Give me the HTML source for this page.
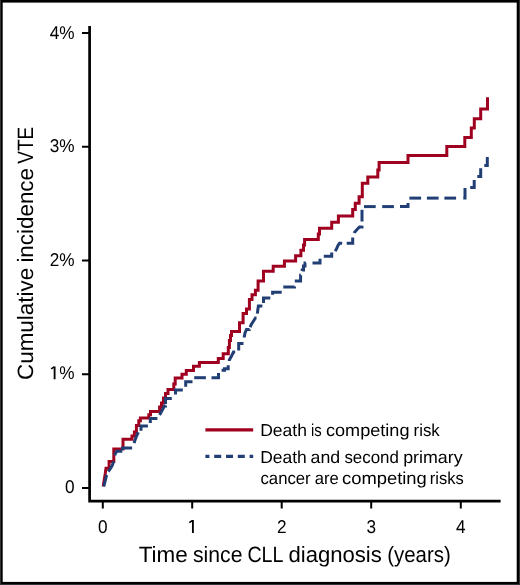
<!DOCTYPE html>
<html><head><meta charset="utf-8"><style>
html,body{margin:0;padding:0;background:#fff;}
svg{display:block;will-change:transform;}
text{font-family:"Liberation Sans",sans-serif;fill:#000;text-rendering:geometricPrecision;}
</style></head><body>
<svg width="520" height="585" viewBox="0 0 520 585">
<rect x="0" y="0" width="520" height="585" fill="#fff"/>
<rect x="0" y="0" width="520" height="2.6" fill="#000"/>
<rect x="0" y="0" width="2.7" height="585" fill="#000"/>
<rect x="516.7" y="0" width="3.3" height="585" fill="#000"/>
<rect x="0" y="581.9" width="520" height="3.1" fill="#000"/>
<rect x="0" y="0" width="1" height="585" fill="#333"/>
<rect x="519" y="0" width="1" height="585" fill="#333"/>
<rect x="0" y="584" width="520" height="1" fill="#333"/>
<path d="M89.6,25.9 V501.2 H500.6" stroke="#000" fill="none" stroke-width="2.7"/>
<g stroke="#000" fill="none" stroke-width="2">
<path d="M82,33.1 H89 M82,146.7 H89 M82,260.5 H89 M82,374.2 H89 M82,488 H89"/>
<path d="M102.8,502 V508.6 M192.2,502 V508.6 M281.7,502 V508.6 M371.2,502 V508.6 M460.8,502 V508.6"/>
</g>
<g font-size="18.5" text-anchor="end">
<text transform="translate(74.6,38.9) scale(0.93,1)">4%</text>
<text transform="translate(74.6,152.3) scale(0.93,1)">3%</text>
<text transform="translate(74.6,266) scale(0.93,1)">2%</text>
<text transform="translate(74.6,379.4) scale(0.93,1)">%</text>
<text transform="translate(74.6,492.8) scale(0.93,1)">0</text>
</g>
<g font-size="18.5" text-anchor="middle">
<text transform="translate(102.8,532.8) scale(0.93,1)">0</text>
<text transform="translate(281.7,532.8) scale(0.93,1)">2</text>
<text transform="translate(371.2,532.8) scale(0.93,1)">3</text>
<text transform="translate(460.8,532.8) scale(0.93,1)">4</text>
</g>
<text x="138.69" y="561.5" font-size="22.2" textLength="49.03" lengthAdjust="spacingAndGlyphs">Time</text>
<text x="193.03" y="561.5" font-size="22.2" textLength="49.40" lengthAdjust="spacingAndGlyphs">since</text>
<text x="247.43" y="561.5" font-size="22.2" textLength="36.01" lengthAdjust="spacingAndGlyphs">CLL</text>
<text x="288.45" y="561.5" font-size="22.2" textLength="93.34" lengthAdjust="spacingAndGlyphs">diagnosis</text>
<text x="387.26" y="561.5" font-size="22.2" textLength="63.50" lengthAdjust="spacingAndGlyphs">(years)</text>

<g transform="translate(33.3,378.9) rotate(-90)"><text x="-1.11" y="0" font-size="22.2" textLength="112.11" lengthAdjust="spacingAndGlyphs">Cumulative</text>
<text x="116.29" y="0" font-size="22.2" textLength="94.62" lengthAdjust="spacingAndGlyphs">incidence</text>
<text x="215.21" y="0" font-size="22.2" textLength="37.02" lengthAdjust="spacingAndGlyphs">VTE</text>
</g>
<polyline points="103.20,486.40 104.20,480.00 105.20,474.00 106.00,468.20 109.10,468.20 109.10,461.50 113.80,461.50 113.80,449.00 123.00,449.00 123.00,439.30 132.00,439.30 132.00,436.00 134.40,436.00 134.40,432.00 136.40,432.00 136.40,425.50 138.80,425.50 138.80,420.80 140.40,420.80 140.40,418.10 148.80,418.10 148.80,414.80 150.50,414.80 150.50,411.50 159.60,411.50 159.60,407.00 161.50,407.00 161.50,403.00 163.50,403.00 163.50,398.00 165.50,398.00 165.50,393.50 168.00,393.50 168.00,389.40 173.80,389.40 173.80,384.00 175.20,384.00 175.20,378.10 182.00,378.10 182.00,374.30 186.30,374.30 186.30,370.50 193.50,370.50 193.50,366.30 199.40,366.30 199.40,362.50 218.30,362.50 218.30,358.50 223.20,358.50 223.20,353.80 228.30,353.80 228.30,347.50 229.40,347.50 229.40,340.50 230.50,340.50 230.50,335.50 231.50,335.50 231.50,331.50 239.50,331.50 239.50,322.80 243.10,322.80 243.10,313.50 246.50,313.50 246.50,308.90 249.40,308.90 249.40,299.50 252.00,299.50 252.00,294.80 255.40,294.80 255.40,290.30 258.10,290.30 258.10,281.10 263.50,281.10 263.50,271.20 273.20,271.20 273.20,266.30 284.40,266.30 284.40,261.10 295.60,261.10 295.60,255.80 300.90,255.80 300.90,250.30 303.50,250.30 303.50,245.00 304.60,245.00 304.60,239.40 318.30,239.40 318.30,233.90 319.50,233.90 319.50,228.20 331.70,228.20 331.70,222.30 338.40,222.30 338.40,216.00 352.70,216.00 352.70,209.60 355.30,209.60 355.30,203.20 359.10,203.20 359.10,196.80 362.30,196.80 362.30,183.30 367.80,183.30 367.80,176.90 377.80,176.90 377.80,170.00 379.10,170.00 379.10,162.40 408.00,162.40 408.00,155.40 446.80,155.40 446.80,146.50 464.80,146.50 464.80,137.50 471.30,137.50 471.30,127.90 474.30,127.90 474.30,118.70 480.70,118.70 480.70,109.00 487.50,109.00 487.50,97.20" fill="none" stroke="#a0001f" stroke-width="3" stroke-linejoin="miter" stroke-linecap="butt"/>
<g fill="none" stroke="#213e75" stroke-width="3" stroke-linejoin="miter" stroke-linecap="butt">
<polyline points="103.80,486.30 106.60,475.20 106.70,474.97"/>
<polyline points="108.20,471.50 108.20,471.50 110.50,468.50 112.30,465.50 113.40,462.00 113.55,461.26"/>
<polyline points="114.85,455.41 115.20,454.00 116.80,451.30 122.30,451.30"/>
<polyline points="122.50,450.00 122.50,447.90 132.10,447.90"/>
<polyline points="134.19,443.13 134.50,441.50 136.00,437.50 137.50,434.00 138.38,432.25"/>
<polyline points="141.00,430.80 141.00,426.00 147.90,426.00"/>
<polyline points="150.30,423.00 150.30,423.00 150.30,418.40 157.40,418.40"/>
<polyline points="159.60,415.00 159.60,415.00 162.00,410.50 164.40,406.00 165.50,406.00 165.50,405.60"/>
<polyline points="165.50,404.00 165.50,398.60 171.80,398.60"/>
<polyline points="175.50,394.40 175.50,390.00 182.80,390.00"/>
<polyline points="185.70,386.70 185.70,381.80 192.50,381.80"/>
<polyline points="194.20,377.70 205.90,377.70"/>
<polyline points="211.50,377.70 218.50,377.70 218.50,373.00"/>
<polyline points="221.60,370.30 224.50,370.30 224.50,368.80 228.20,368.80 228.20,365.20"/>
<polyline points="229.30,361.00 229.30,360.00 231.50,356.00 233.50,352.00 235.16,352.00"/>
<polyline points="238.70,350.50 238.70,343.60 243.50,343.60"/>
<polyline points="244.30,337.50 244.30,337.00 245.00,333.00 246.50,329.50 249.50,329.50 249.60,329.19"/>
<polyline points="250.25,327.25 251.00,325.00 253.50,321.00 255.50,318.00 256.51,318.00"/>
<polyline points="257.35,313.58 257.80,310.00 258.40,305.90 262.35,305.90"/>
<polyline points="263.50,302.90 263.50,298.00 270.30,298.00"/>
<polyline points="272.60,294.80 272.60,292.20 281.70,292.20"/>
<polyline points="283.30,287.00 294.50,287.00 294.50,286.50"/>
<polyline points="294.80,281.00 300.60,281.00 300.60,275.30 300.80,275.30"/>
<polyline points="302.20,271.00 302.20,270.00 303.50,270.00 303.50,266.00 305.00,266.00 305.00,263.00 305.90,263.00"/>
<polyline points="312.50,263.00 320.00,263.00 320.00,258.80"/>
<polyline points="323.80,256.30 331.70,256.30 331.70,252.50"/>
<polyline points="335.12,251.08 336.30,249.30 338.00,245.50 339.50,243.20 342.16,243.20"/>
<polyline points="346.70,243.20 352.70,243.20 352.70,237.50"/>
<polyline points="354.19,233.00 354.40,232.50 357.00,229.50 359.50,227.00 362.00,227.00 362.00,225.84"/>
<polyline points="362.00,221.50 362.00,209.80"/>
<polyline points="364.00,206.60 375.70,206.60"/>
<polyline points="382.20,206.60 393.90,206.60"/>
<polyline points="400.00,206.60 408.00,206.60 408.00,202.90"/>
<polyline points="409.40,198.10 421.10,198.10"/>
<polyline points="426.90,198.10 438.60,198.10"/>
<polyline points="444.40,198.10 456.10,198.10"/>
<polyline points="463.30,198.10 465.00,198.10 465.00,188.10"/>
<polyline points="470.20,187.60 474.20,187.60 474.20,179.90"/>
<polyline points="477.30,176.50 480.70,176.50 480.70,168.20"/>
<polyline points="484.30,165.50 487.30,165.50 487.30,157.00"/>
</g>
<line x1="205.4" y1="429.9" x2="253.2" y2="429.9" stroke="#a0001f" stroke-width="3.1"/>
<line x1="205.4" y1="456.3" x2="253.2" y2="456.3" stroke="#213e75" stroke-width="3.3" stroke-dasharray="4 4.8 7 4.8 7 4.8 7 4.8 4"/>
<g stroke="#000" fill="none">
<path d="M54.6,366.5 V379.2 M192.9,520.1 V532.9" stroke-width="1.85"/>
<path d="M51.2,368.9 L54.2,366.9 M189.3,522.6 L192.5,520.5" stroke-width="1.5"/>
</g>
<text x="260.18" y="435.8" font-size="17.3" textLength="46.74" lengthAdjust="spacingAndGlyphs">Death</text>
<text x="311.02" y="435.8" font-size="17.3" textLength="10.69" lengthAdjust="spacingAndGlyphs">is</text>
<text x="326.02" y="435.8" font-size="17.3" textLength="83.45" lengthAdjust="spacingAndGlyphs">competing</text>
<text x="413.58" y="435.8" font-size="17.3" textLength="26.12" lengthAdjust="spacingAndGlyphs">risk</text>
<text x="260.19" y="462.5" font-size="17.3" textLength="46.64" lengthAdjust="spacingAndGlyphs">Death</text>
<text x="310.63" y="462.5" font-size="17.3" textLength="29.61" lengthAdjust="spacingAndGlyphs">and</text>
<text x="344.41" y="462.5" font-size="17.3" textLength="54.50" lengthAdjust="spacingAndGlyphs">second</text>
<text x="403.17" y="462.5" font-size="17.3" textLength="59.40" lengthAdjust="spacingAndGlyphs">primary</text>
<text x="260.48" y="484.1" font-size="17.3" textLength="50.19" lengthAdjust="spacingAndGlyphs">cancer</text>
<text x="314.68" y="484.1" font-size="17.3" textLength="24.05" lengthAdjust="spacingAndGlyphs">are</text>
<text x="342.00" y="484.1" font-size="17.3" textLength="84.78" lengthAdjust="spacingAndGlyphs">competing</text>
<text x="429.80" y="484.1" font-size="17.3" textLength="33.87" lengthAdjust="spacingAndGlyphs">risks</text>

</svg>
</body></html>
